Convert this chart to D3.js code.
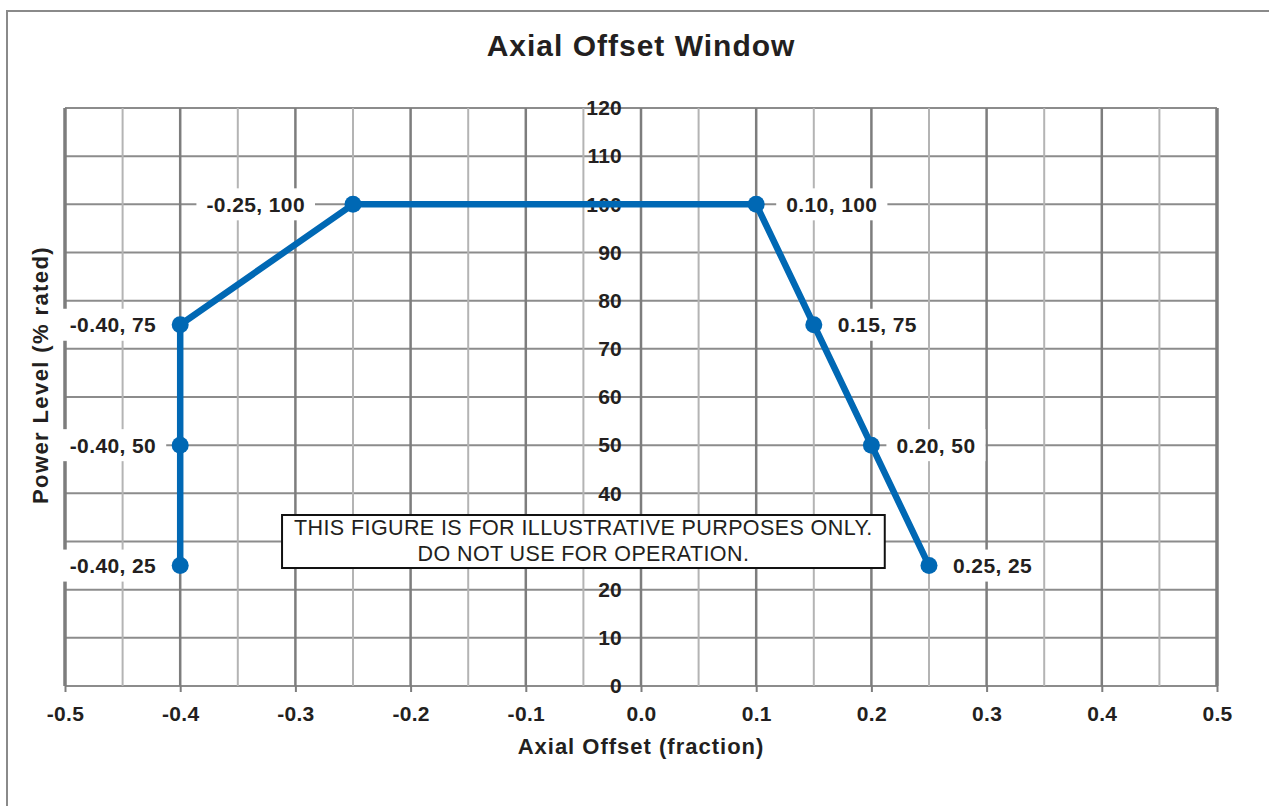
<!DOCTYPE html>
<html>
<head>
<meta charset="utf-8">
<script src="https://cdn.jsdelivr.net/npm/d3@7"></script>
<style>
  body { margin: 0; background: #fff; }
  svg { display: block; font-family: "Liberation Sans", Arial, Helvetica, sans-serif; }
</style>
</head>
<body>
<div class="canvas"></div>
<script>
// window corner points (axial offset, % rated power)
const offsets = [-0.40, -0.40, -0.40, -0.25, 0.10, 0.15, 0.20, 0.25];
const powers = [25, 50, 75, 100, 100, 75, 50, 25];
const pointLabels = [
  "-0.40, 25",
  "-0.40, 50",
  "-0.40, 75",
  "-0.25, 100",
  "0.10, 100",
  "0.15, 75",
  "0.20, 50",
  "0.25, 25",
];
// which side of the point its label sits on, and how far away
const labelSides = ["left", "left", "left", "left", "right", "right", "right", "right"];
const labelGaps = [24, 24, 24, 48, 30, 24, 25, 24];

const xTicks = [-0.5, -0.4, -0.3, -0.2, -0.1, 0.0, 0.1, 0.2, 0.3, 0.4, 0.5];
const xMinorTicks = [-0.45, -0.35, -0.25, -0.15, -0.05, 0.05, 0.15, 0.25, 0.35, 0.45];
const yTicks = [0, 10, 20, 30, 40, 50, 60, 70, 80, 90, 100, 110, 120];

const title = "Axial Offset Window";
const xTitle = "Axial Offset (fraction)";
const yTitle = "Power Level (% rated)";
const noteLines = [
  "THIS FIGURE IS FOR ILLUSTRATIVE PURPOSES ONLY.",
  "DO NOT USE FOR OPERATION.",
];

const W = 1269;
const H = 806;
const margin = { top: 108, right: 52, bottom: 120, left: 65 };
const width = W - margin.left - margin.right;
const height = H - margin.top - margin.bottom;

const blue = "#0068b4";
const ink = "#231f20";

const x = d3.scaleLinear().domain([-0.5, 0.5]).range([0, width]);
const y = d3.scaleLinear().domain([0, 120]).range([height, 0]);

const svg = d3
  .select(".canvas")
  .append("svg")
  .attr("width", W)
  .attr("height", H);

// outer frame (runs off the right and bottom edges)
svg
  .append("rect")
  .attr("x", 7)
  .attr("y", 11)
  .attr("width", W + 50)
  .attr("height", H + 50)
  .attr("fill", "none")
  .attr("stroke", "#8a8a8a")
  .attr("stroke-width", 2);

svg
  .append("text")
  .attr("x", margin.left + x(0))
  .attr("y", 56)
  .attr("text-anchor", "middle")
  .attr("font-size", 30)
  .attr("font-weight", "bold")
  .attr("letter-spacing", 1)
  .attr("fill", ink)
  .text(title);

const chart = svg
  .append("g")
  .attr("transform", `translate(${margin.left}, ${margin.top})`);

// grid
chart
  .append("g")
  .selectAll("line")
  .data(yTicks)
  .join("line")
  .attr("x1", 0)
  .attr("x2", width)
  .attr("y1", (d) => y(d))
  .attr("y2", (d) => y(d))
  .attr("stroke", "#8c8c8c")
  .attr("stroke-width", 2);

chart
  .append("g")
  .selectAll("line")
  .data(xMinorTicks)
  .join("line")
  .attr("x1", (d) => x(d))
  .attr("x2", (d) => x(d))
  .attr("y1", 0)
  .attr("y2", height)
  .attr("stroke", "#b4b4b4")
  .attr("stroke-width", 2);

chart
  .append("g")
  .selectAll("line")
  .data(xTicks)
  .join("line")
  .attr("x1", (d) => x(d))
  .attr("x2", (d) => x(d))
  .attr("y1", 0)
  .attr("y2", height)
  .attr("stroke", "#7d7d7d")
  .attr("stroke-width", (d, i) => (i === 0 || i === xTicks.length - 1 ? 3.5 : 2.5));

// x axis
const xAxis = d3
  .axisBottom(x)
  .tickValues(xTicks)
  .tickSize(6)
  .tickPadding(14)
  .tickFormat((d) => d.toFixed(1));

const gx = chart
  .append("g")
  .attr("transform", `translate(0, ${height})`)
  .call(xAxis);
gx.select(".domain").remove();
gx.selectAll(".tick line").attr("stroke", "#7d7d7d").attr("stroke-width", 2);
gx.selectAll(".tick text")
  .attr("font-family", null)
  .attr("font-size", 21)
  .attr("font-weight", "bold")
  .attr("letter-spacing", 0.3)
  .attr("fill", ink);

// y axis labels sit just left of the zero line
const yAxis = d3
  .axisLeft(y)
  .tickValues(yTicks)
  .tickSize(0)
  .tickPadding(19)
  .tickFormat((d) => String(d));

const gy = chart
  .append("g")
  .attr("transform", `translate(${x(0)}, 0)`)
  .call(yAxis);
gy.select(".domain").remove();
gy.selectAll(".tick text")
  .attr("font-family", null)
  .attr("font-size", 21)
  .attr("font-weight", "bold")
  .attr("letter-spacing", 0.2)
  .attr("fill", ink);

// axis titles
svg
  .append("text")
  .attr("x", margin.left + x(0))
  .attr("y", 754)
  .attr("text-anchor", "middle")
  .attr("font-size", 22)
  .attr("font-weight", "bold")
  .attr("letter-spacing", 1)
  .attr("fill", ink)
  .text(xTitle);

svg
  .append("text")
  .attr("transform", "translate(48, 375) rotate(-90)")
  .attr("text-anchor", "middle")
  .attr("font-size", 22)
  .attr("font-weight", "bold")
  .attr("letter-spacing", 1.4)
  .attr("fill", ink)
  .text(yTitle);

// note box
const note = chart.append("g");
const noteRect = note.append("rect");
const noteText = note
  .append("text")
  .attr("text-anchor", "middle")
  .attr("font-size", 21.5)
  .attr("letter-spacing", 0.4)
  .attr("fill", ink);
noteText
  .selectAll("tspan")
  .data(noteLines)
  .join("tspan")
  .attr("x", x(-0.05))
  .attr("y", (d, i) => y(35.5) + 20 + i * 26)
  .text((d) => d);
const nb = noteText.node().getBBox();
const boxX = x(-0.05) - nb.width / 2 - 12;
const boxW = nb.width + 24;
const boxY = y(35.5);
const boxH = 53;
noteRect
  .attr("x", boxX)
  .attr("y", boxY)
  .attr("width", boxW)
  .attr("height", boxH)
  .attr("fill", "#fff")
  .attr("stroke", "#111")
  .attr("stroke-width", 2);

// the box hides any y tick label that falls behind it
gy.selectAll(".tick").each(function (d) {
  const ty = y(d);
  if (ty > boxY - 8 && ty < boxY + boxH + 8) d3.select(this).select("text").remove();
});

// window line and points
const pts = offsets.map((o, i) => [o, powers[i]]);
const line = d3
  .line()
  .x((d) => x(d[0]))
  .y((d) => y(d[1]));

chart
  .append("path")
  .datum(pts)
  .attr("d", line)
  .attr("fill", "none")
  .attr("stroke", blue)
  .attr("stroke-width", 6.5)
  .attr("stroke-linejoin", "round");

chart
  .append("g")
  .selectAll("circle")
  .data(pts)
  .join("circle")
  .attr("cx", (d) => x(d[0]))
  .attr("cy", (d) => y(d[1]))
  .attr("r", 8.5)
  .attr("fill", blue);

// point labels on white boxes
const labels = chart
  .append("g")
  .selectAll("g")
  .data(pts)
  .join("g");

labels.each(function (d, i) {
  const g = d3.select(this);
  const left = labelSides[i] === "left";
  const tx = left ? x(d[0]) - labelGaps[i] : x(d[0]) + labelGaps[i];
  const bg = g.append("rect");
  const t = g
    .append("text")
    .attr("x", tx)
    .attr("y", y(d[1]))
    .attr("dy", "0.35em")
    .attr("text-anchor", left ? "end" : "start")
    .attr("font-size", 21)
    .attr("font-weight", "bold")
    .attr("letter-spacing", 0.4)
    .attr("fill", ink)
    .text(pointLabels[i]);
  const b = t.node().getBBox();
  bg.attr("x", b.x - 10)
    .attr("y", y(d[1]) - 16)
    .attr("width", b.width + 20)
    .attr("height", 32)
    .attr("fill", "#fff");
});
</script>
</body>
</html>
